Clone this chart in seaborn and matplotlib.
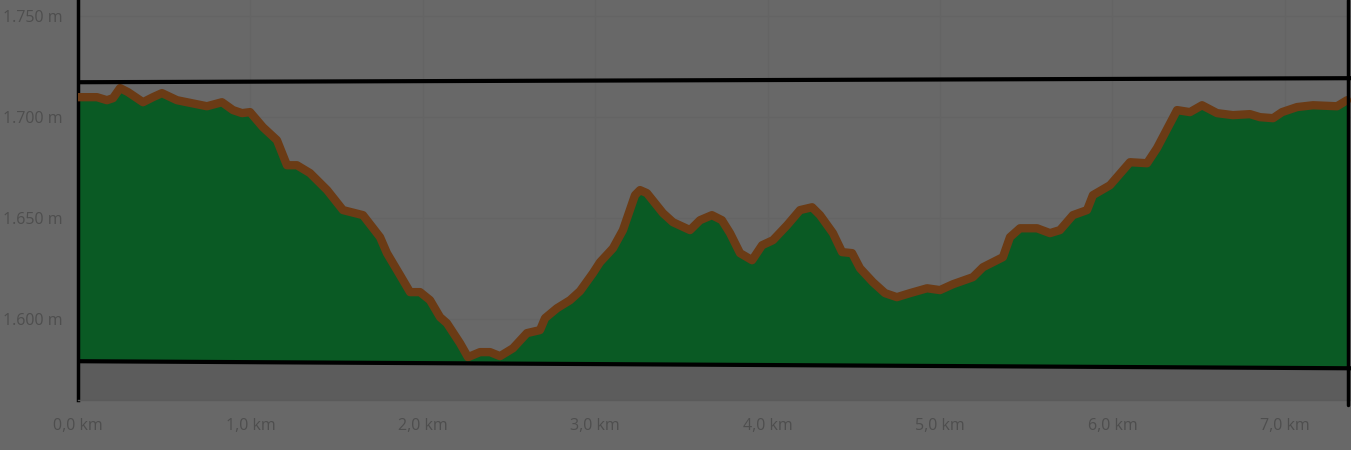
#!/usr/bin/env python3
"""Elevation profile (dimmed screenshot style) recreated with seaborn."""

import matplotlib
matplotlib.use("Agg")
import matplotlib.pyplot as plt
from matplotlib.ticker import FuncFormatter
import numpy as np
import pandas as pd
import seaborn as sns


BG = "#686868"
STRIP = "#5c5c5c"
GREEN = "#0a5a24"
BROWN = "#6b3b15"
GRID = "#646464"
TEXT = "#4e4e4e"

# distance along the track (km) and elevation (m)
km = [0.000, 0.110, 0.168, 0.203, 0.244, 0.290, 0.377, 0.435, 0.487, 0.574,
      0.748, 0.835, 0.899, 0.951, 0.998, 1.073, 1.154, 1.212, 1.270, 1.346,
      1.445, 1.537, 1.653, 1.752, 1.792, 1.868, 1.926, 1.984, 2.042, 2.100,
      2.140, 2.216, 2.262, 2.332, 2.390, 2.448, 2.523, 2.604, 2.680, 2.709,
      2.778, 2.854, 2.912, 2.987, 3.028, 3.103, 3.161, 3.231, 3.260, 3.300,
      3.393, 3.451, 3.550, 3.608, 3.677, 3.735, 3.782, 3.840, 3.910, 3.968,
      4.031, 4.113, 4.188, 4.258, 4.304, 4.379, 4.432, 4.490, 4.536, 4.611,
      4.681, 4.750, 4.826, 4.925, 5.000, 5.075, 5.191, 5.249, 5.365, 5.406,
      5.464, 5.563, 5.638, 5.696, 5.771, 5.853, 5.887, 5.986, 6.102, 6.201,
      6.259, 6.375, 6.450, 6.520, 6.607, 6.699, 6.798, 6.856, 6.932, 6.984,
      7.071, 7.164, 7.303, 7.361]
elevation = [1709.9, 1709.9, 1708.4, 1709.4, 1714.4, 1712.4, 1707.4, 1709.9, 1711.9, 1708.4,
             1705.4, 1707.4, 1703.5, 1702.0, 1702.5, 1695.0, 1688.6, 1676.2, 1676.2, 1672.3,
             1663.9, 1654.0, 1651.5, 1640.6, 1632.7, 1621.8, 1613.4, 1613.4, 1609.4, 1601.0,
             1598.0, 1588.1, 1581.2, 1583.7, 1583.7, 1581.7, 1585.6, 1593.1, 1594.6, 1600.5,
             1605.4, 1609.4, 1613.9, 1622.8, 1628.2, 1635.1, 1644.1, 1661.4, 1663.9, 1662.4,
             1652.5, 1648.0, 1644.1, 1649.0, 1651.5, 1649.0, 1642.6, 1632.7, 1629.2, 1636.6,
             1639.1, 1646.5, 1654.0, 1655.4, 1651.5, 1642.6, 1633.2, 1632.7, 1625.2, 1618.3,
             1612.9, 1610.9, 1612.9, 1615.3, 1614.4, 1617.3, 1620.8, 1625.7, 1630.7, 1640.6,
             1645.0, 1645.0, 1642.6, 1644.1, 1651.5, 1654.0, 1661.4, 1666.3, 1677.7, 1677.2,
             1684.7, 1703.5, 1702.5, 1705.9, 1702.0, 1701.0, 1701.5, 1700.0, 1699.5, 1702.5,
             1705.0, 1705.9, 1705.4, 1708.4]

# the two hand-drawn black guide lines (elevation at left / right edge)
upper_guide = [1717.3, 1719.3]
lower_guide = [1579.2, 1575.7]

x_ticks = [0, 1, 2, 3, 4, 5, 6, 7]
y_ticks = [1600, 1650, 1700, 1750]

sns.set_style("white", {"axes.facecolor": BG, "figure.facecolor": BG})
plt.rcParams["font.family"] = ["Open Sans", "DejaVu Sans"]

df = pd.DataFrame({"km": km, "elev": elevation})
x_end = 7.384
edges = [0, x_end]

fig = plt.figure(figsize=(13.51, 4.5), dpi=100)
ax = fig.add_axes([78 / 1351, 50 / 450, 1 - 78 / 1351, 1 - 50 / 450])
ax.set_facecolor(BG)

low_at = np.interp(df["km"], edges, lower_guide)
xs = np.linspace(0, x_end, 50)
ax.fill_between(xs, 1560, np.interp(xs, edges, lower_guide), color=STRIP, zorder=1, lw=0)
ax.fill_between(df["km"], low_at, df["elev"], color=GREEN, zorder=2, lw=0)
sns.lineplot(data=df, x="km", y="elev", ax=ax, color=BROWN, lw=6,
             solid_joinstyle="round", solid_capstyle="round", zorder=3, sort=False)

ax.plot(edges, upper_guide, color="black", lw=3, zorder=5, solid_capstyle="butt")
ax.plot(edges, lower_guide, color="black", lw=3, zorder=5, solid_capstyle="butt")
ax.axvline(7.365, ymin=-0.012, ymax=1, color="black", lw=2.5, zorder=5, clip_on=False)

ax.set_xlim(0, x_end)
ax.set_ylim(1560, 1758)
ax.set_xticks(x_ticks)
ax.set_yticks(y_ticks)
ax.xaxis.set_major_formatter(FuncFormatter(lambda v, _: f"{v:.1f} km".replace(".", ",")))
ax.yaxis.set_major_formatter(FuncFormatter(lambda v, _: f"{v:,.0f} m".replace(",", ".")))
ax.grid(True, color=GRID, lw=1, zorder=0)
ax.set_axisbelow(True)
ax.tick_params(axis="both", length=0, labelsize=11.5, labelcolor=TEXT)
ax.tick_params(axis="x", pad=13)
ax.tick_params(axis="y", pad=11)
ax.set_xlabel("")
ax.set_ylabel("")

for side in ["top", "right"]:
    ax.spines[side].set_visible(False)
ax.spines["left"].set_color("black")
ax.spines["left"].set_linewidth(2.5)
ax.spines["bottom"].set_color("#5a5a5a")
ax.spines["bottom"].set_linewidth(1)

fig.savefig("out.png", dpi=100, facecolor=BG)
